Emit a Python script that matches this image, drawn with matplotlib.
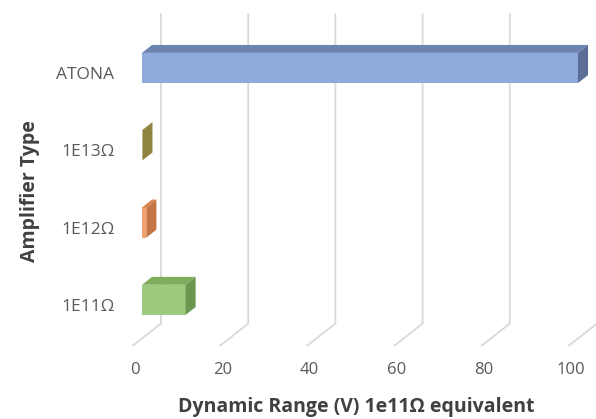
"""3D-style horizontal bar chart: dynamic range by amplifier type"""
import numpy as np
import matplotlib
matplotlib.use("Agg")
import matplotlib.pyplot as plt
from matplotlib.patches import Polygon

# data
categories = ["1E11Ω", "1E12Ω", "1E13Ω", "ATONA"]
values = [10, 1, 0.1, 100]
xticks = [0, 20, 40, 60, 80, 100]

# colours per bar: (front, top, side)
colors = [("#9dca7c", "#7dad5d", "#6a9650"),
          ("#f2a26c", "#d9844d", "#c57645"),
          ("#c1b163", "#a39448", "#908240"),
          ("#8faadc", "#6e84b0", "#5b6f99")]

# oblique projection, all in data units
px_x = 4.36     # pixels per value unit
px_y = 77.3     # pixels per category
dx = -28 / px_x          # back -> front shift
dy = -22 / px_y
d0, d1 = 0.32, 0.68      # bar depth within the floor
h = 0.195                # half bar height

fig = plt.figure(figsize=(5.96, 4.19), dpi=100)
ax = fig.add_axes([0, 0, 1, 1])
ax.set_xlim(-161 / px_x, (596 - 161) / px_x)
ax.set_ylim((284.9 - 419) / px_y, 284.9 / px_y)
ax.axis("off")

grid_col = "#d9d9d9"
wall_top, wall_bot = len(categories) - 0.5, -0.5
for t in xticks:
    ax.plot([t, t, t + dx], [wall_top, wall_bot, wall_bot + dy],
            color=grid_col, lw=1.3, solid_joinstyle="miter", zorder=1)
    ax.text(t + dx + 0.5, wall_bot + dy - 0.32, str(t), ha="center", va="center",
            fontsize=12, color="#595959", family="Open Sans")


def off(pts, d):
    return [(x + d * dx, y + d * dy) for x, y in pts]


for i, (cat, v) in enumerate(zip(categories, values)):
    front, top, side = colors[i]
    lo, hi = i - h, i + h
    ax.add_patch(Polygon(off([(0, lo), (v, lo), (v, hi), (0, hi)], d1),
                         closed=True, fc=front, ec="none", zorder=3))
    ax.add_patch(Polygon(off([(0, hi), (v, hi)], d1) + off([(v, hi), (0, hi)], d0),
                         closed=True, fc=top, ec="none", zorder=3))
    ax.add_patch(Polygon(off([(v, lo), (v, hi)], d1) + off([(v, hi), (v, lo)], d0),
                         closed=True, fc=side, ec="none", zorder=3))
    ax.text(dx - 4.3, i + dy, cat, ha="right", va="center",
            fontsize=12.5, color="#595959", family="Open Sans")

ax.text(50 + dx + 1.1, wall_bot + dy - 0.79, "Dynamic Range (V) 1e11Ω equivalent",
        ha="center", va="center", fontsize=14, fontweight="bold",
        color="#404040", family="Open Sans")
ax.text(-30.0, 1.22, "Amplifier Type", ha="center", va="center", rotation=90,
        fontsize=14, fontweight="bold", color="#404040", family="Open Sans")

plt.savefig("out.png", dpi=100)
